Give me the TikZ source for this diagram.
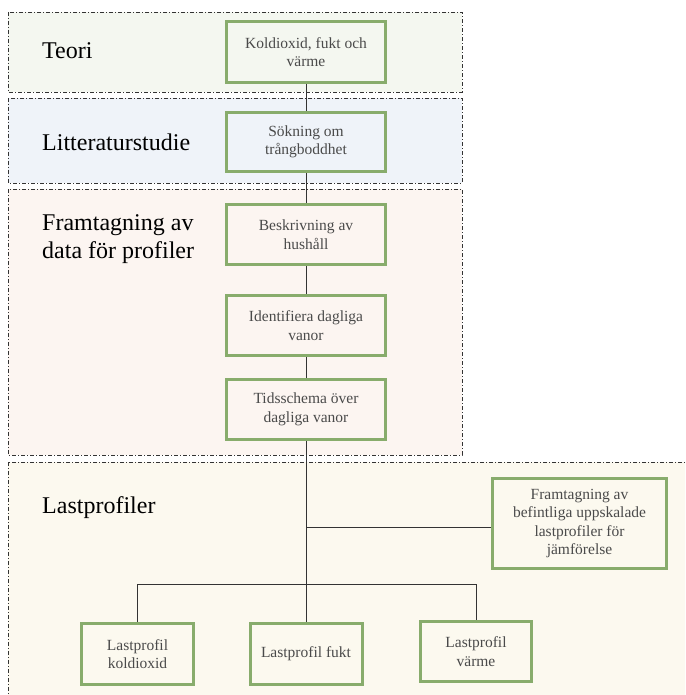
\documentclass[tikz,border=0pt]{standalone}
\usepackage{fontspec}
\setmainfont{Liberation Serif}
\definecolor{bandline}{HTML}{333333}
\definecolor{boxgreen}{HTML}{88AC6C}
\definecolor{boxtext}{HTML}{4A4A4A}
\definecolor{fillteori}{HTML}{F4F7F0}
\definecolor{filllit}{HTML}{EFF3F9}
\definecolor{fillfram}{HTML}{FCF5F1}
\definecolor{filllast}{HTML}{FCF9EF}
\tikzset{
  band/.style={draw=bandline, line width=0.9pt, dash pattern=on 4pt off 2pt on 1pt off 2pt},
  bandlabel/.style={anchor=base west, inner sep=0pt, font=\fontsize{24}{28}\selectfont, text=black, align=left},
  stepbox/.style={draw=boxgreen, line width=3pt, align=center, text=boxtext,
    font=\fontsize{15.5}{18.5}\selectfont, inner sep=2pt},
  conn/.style={draw=bandline, line width=0.9pt}
}
\begin{document}
\begin{tikzpicture}[x=1pt,y=-1pt]
\useasboundingbox (0,0) rectangle (685,695);
\clip (0,0) rectangle (685,695);
% bands
\fill[fillteori] (8,12) rectangle (462,92);
\draw[band] (8,12) rectangle (462,92);
\fill[filllit] (8,98) rectangle (462,183);
\draw[band] (8,98) rectangle (462,183);
\fill[fillfram] (8,189) rectangle (462,455);
\draw[band] (8,189) rectangle (462,455);
\fill[filllast] (8,462) rectangle (700,710);
\draw[band] (8,462) rectangle (700,710);
% band labels
\node[bandlabel] (lteori) at (42,59) {Teori};
\node[bandlabel] (llit) at (42,150) {Litteraturstudie};
\node[bandlabel, font=\fontsize{24}{28}\selectfont] (lfram) at (42,258) {Framtagning av\\data för profiler};
\node[bandlabel] (llast) at (42,513) {Lastprofiler};
% boxes
\node[stepbox, minimum width=159pt, minimum height=61pt] (k) at (306,52) {Koldioxid, fukt och\\värme};
\node[stepbox, minimum width=159pt, minimum height=59pt] (s) at (306,142) {Sökning om\\trångboddhet};
\node[stepbox, minimum width=159pt, minimum height=60pt] (b) at (306,234.5) {Beskrivning av\\hushåll};
\node[stepbox, minimum width=159pt, minimum height=60pt] (i) at (306,325.5) {Identifiera dagliga\\vanor};
\node[stepbox, minimum width=159pt, minimum height=60pt] (t) at (306,409.5) {Tidsschema över\\dagliga vanor};
\node[stepbox, minimum width=174pt, minimum height=90pt] (f) at (579.5,523.5) {Framtagning av\\befintliga uppskalade\\lastprofiler för\\jämförelse};
\node[stepbox, minimum width=112pt, minimum height=61pt] (lk) at (137.5,654) {Lastprofil\\koldioxid};
\node[stepbox, minimum width=112pt, minimum height=61pt] (lf) at (306,654) {Lastprofil fukt};
\node[stepbox, minimum width=111pt, minimum height=60pt] (lv) at (476,651.5) {Lastprofil\\värme};
% connectors
\coordinate (j1) at (306,527);
\coordinate (j2) at (306,584.5);
\draw[conn] (k.south) -- (s.north);
\draw[conn] (s.south) -- (b.north);
\draw[conn] (b.south) -- (i.north);
\draw[conn] (i.south) -- (t.north);
\draw[conn] (t.south) -- (j2);
\draw[conn] (j1) -- (f.west |- j1);
\draw[conn] (j2) -- (lf.north);
\draw[conn] (lk.north) |- (j2) -| (lv.north);
\end{tikzpicture}
\end{document}
